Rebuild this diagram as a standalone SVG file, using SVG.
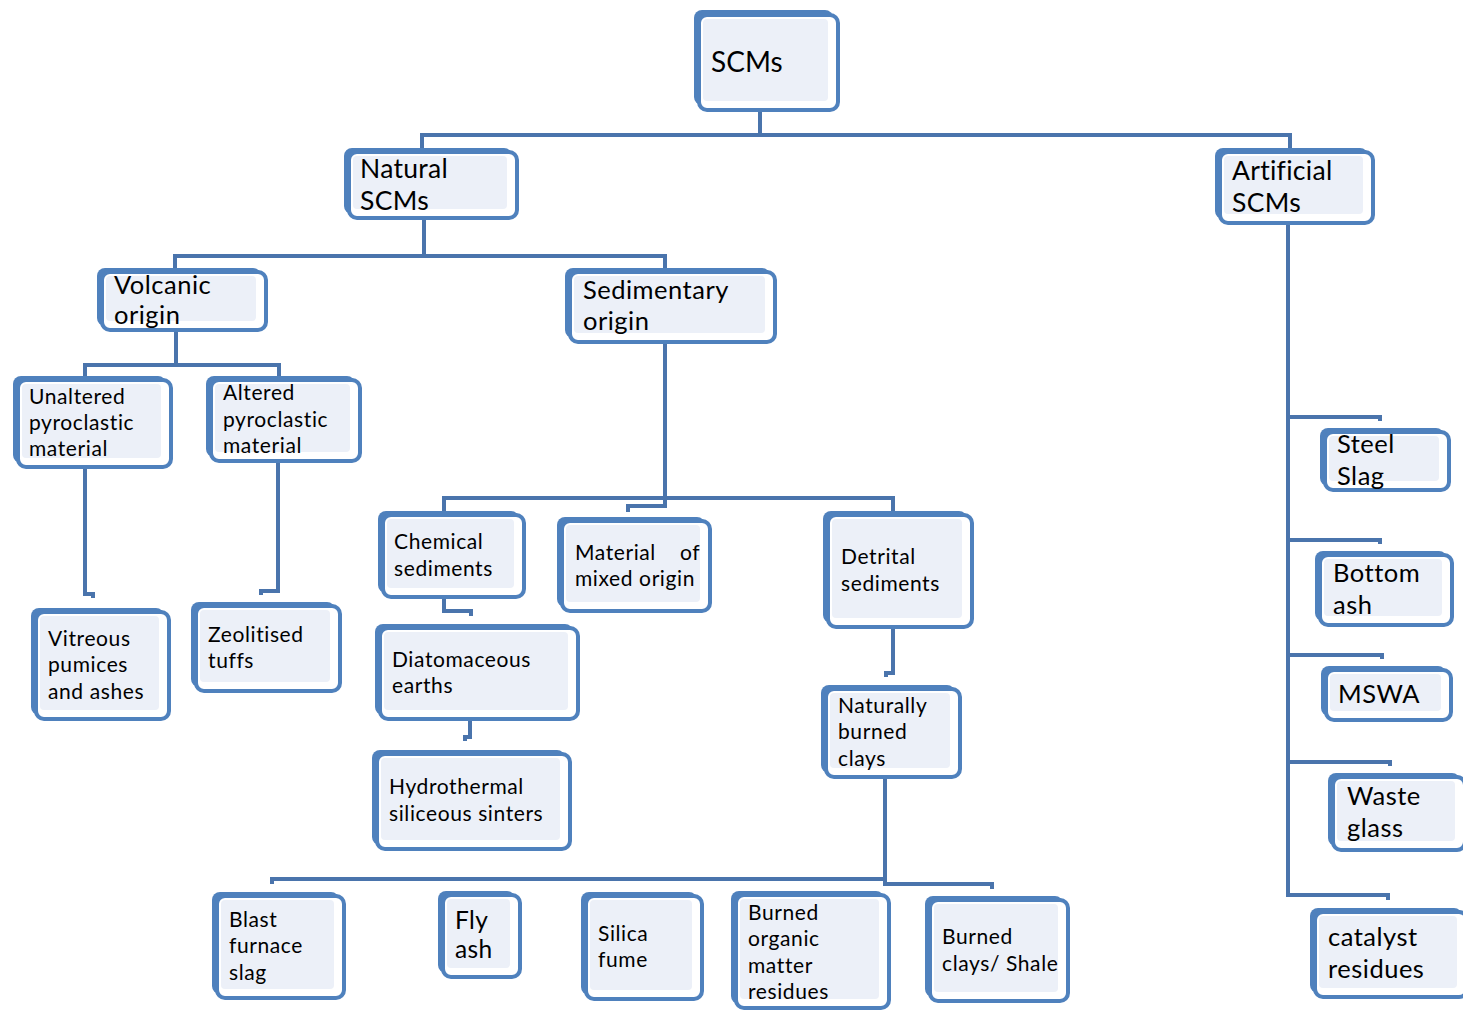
<svg xmlns="http://www.w3.org/2000/svg" width="1463" height="1010" viewBox="0 0 1463 1010">
<style>
.sh{fill:#4F81BD}
.fr{fill:#FFFFFF;stroke:#4F81BD;stroke-width:4}
.in{fill:#ECF0F8}
.t{font-family:Lato,"Open Sans",sans-serif;fill:#000}
.s20{font-size:21px;letter-spacing:0.6px}
.s24{font-size:25.5px;letter-spacing:0.5px}
.s26{font-size:26.5px;letter-spacing:0.3px}
#conn path{fill:none;stroke:#4A74AC;stroke-width:4}
</style>
<rect width="1463" height="1010" fill="#FFFFFF"/>
<g id="conn">
<path d="M760,112 V135"/>
<path d="M422,148 V135 H1290 V150"/>
<path d="M424,218 V256"/>
<path d="M175,268 V256 H665 V270"/>
<path d="M176,330 V365"/>
<path d="M85,376 V365 H279 V376"/>
<path d="M85,467 V594 H93 V598"/>
<path d="M278,461 V591 H261 V595"/>
<path d="M665,342 V506 H628 V512"/>
<path d="M444,512 V498 H893 V512"/>
<path d="M444,597 V611 H471 V616"/>
<path d="M470,719 V737 H465 V741"/>
<path d="M893,627 V673 H886 V677"/>
<path d="M885,777 V882"/>
<path d="M272,884 V879 H885 V884 H992 V889"/>
<path d="M1288,224 V895 H1388 V900"/>
<path d="M1288,417 H1380 V421"/>
<path d="M1288,540 H1380 V544"/>
<path d="M1288,655 H1382 V659"/>
<path d="M1288,762 H1390 V766"/>
</g>
<g id="n-scms"><rect class="sh" x="694" y="10" width="139" height="95" rx="8"/><rect class="fr" x="699" y="15" width="139" height="95" rx="8"/><rect class="in" x="703" y="19" width="125" height="82" rx="4"/><text class="t" x="711" y="72" font-size="28">SCMs</text></g>
<g id="n-natural"><rect class="sh" x="344" y="148" width="168" height="66" rx="8"/><rect class="fr" x="349" y="152" width="168" height="66" rx="8"/><rect class="in" x="353" y="156" width="154" height="53" rx="4"/><text class="t s26"><tspan x="360" y="178">Natural</tspan><tspan x="360" y="210">SCMs</tspan></text></g>
<g id="n-artificial"><rect class="sh" x="1215" y="148" width="153" height="71" rx="8"/><rect class="fr" x="1220" y="152" width="153" height="71" rx="8"/><rect class="in" x="1224" y="156" width="139" height="58" rx="4"/><text class="t s26"><tspan x="1232" y="180">Artificial</tspan><tspan x="1232" y="212">SCMs</tspan></text></g>
<g id="n-volcanic"><rect class="sh" x="97" y="268" width="164" height="58" rx="8"/><rect class="fr" x="102" y="272" width="164" height="58" rx="8"/><rect class="in" x="106" y="276" width="150" height="45" rx="4"/><text class="t s24"><tspan x="114" y="294">Volcanic</tspan><tspan x="114" y="324">origin</tspan></text></g>
<g id="n-sedimentary"><rect class="sh" x="565" y="268" width="205" height="70" rx="8"/><rect class="fr" x="570" y="272" width="205" height="70" rx="8"/><rect class="in" x="574" y="276" width="191" height="57" rx="4"/><text class="t s24"><tspan x="583" y="299">Sedimentary</tspan><tspan x="583" y="330">origin</tspan></text></g>
<g id="n-unaltered"><rect class="sh" x="13" y="376" width="153" height="87" rx="8"/><rect class="fr" x="18" y="380" width="153" height="87" rx="8"/><rect class="in" x="22" y="384" width="139" height="74" rx="4"/><text class="t s20"><tspan x="29" y="404">Unaltered</tspan><tspan x="29" y="430">pyroclastic</tspan><tspan x="29" y="456">material</tspan></text></g>
<g id="n-altered"><rect class="sh" x="206" y="376" width="149" height="81" rx="8"/><rect class="fr" x="211" y="380" width="149" height="81" rx="8"/><rect class="in" x="215" y="384" width="135" height="68" rx="4"/><text class="t s20"><tspan x="223" y="400">Altered</tspan><tspan x="223" y="427">pyroclastic</tspan><tspan x="223" y="453">material</tspan></text></g>
<g id="n-vitreous"><rect class="sh" x="31" y="608" width="133" height="107" rx="8"/><rect class="fr" x="36" y="612" width="133" height="107" rx="8"/><rect class="in" x="40" y="616" width="119" height="94" rx="4"/><text class="t s20"><tspan x="48" y="646">Vitreous</tspan><tspan x="48" y="672">pumices</tspan><tspan x="48" y="699">and ashes</tspan></text></g>
<g id="n-zeolitised"><rect class="sh" x="191" y="602" width="144" height="85" rx="8"/><rect class="fr" x="196" y="606" width="144" height="85" rx="8"/><rect class="in" x="200" y="610" width="130" height="72" rx="4"/><text class="t s20"><tspan x="208" y="642">Zeolitised</tspan><tspan x="208" y="668">tuffs</tspan></text></g>
<g id="n-chemical"><rect class="sh" x="378" y="511" width="141" height="82" rx="8"/><rect class="fr" x="383" y="515" width="141" height="82" rx="8"/><rect class="in" x="387" y="519" width="127" height="69" rx="4"/><text class="t s20"><tspan x="394" y="549">Chemical</tspan><tspan x="394" y="576">sediments</tspan></text></g>
<g id="n-mixed"><rect class="sh" x="557" y="517" width="148" height="90" rx="8"/><rect class="fr" x="562" y="521" width="148" height="90" rx="8"/><rect class="in" x="566" y="525" width="134" height="77" rx="4"/><text class="t s20"><tspan x="575" y="560">Material</tspan><tspan x="680" y="560">of</tspan><tspan x="575" y="586">mixed origin</tspan></text></g>
<g id="n-detrital"><rect class="sh" x="823" y="511" width="144" height="112" rx="8"/><rect class="fr" x="828" y="515" width="144" height="112" rx="8"/><rect class="in" x="832" y="519" width="130" height="99" rx="4"/><text class="t s20"><tspan x="841" y="564">Detrital</tspan><tspan x="841" y="591">sediments</tspan></text></g>
<g id="n-diatomaceous"><rect class="sh" x="375" y="624" width="198" height="91" rx="8"/><rect class="fr" x="380" y="628" width="198" height="91" rx="8"/><rect class="in" x="384" y="632" width="184" height="78" rx="4"/><text class="t s20"><tspan x="392" y="667">Diatomaceous</tspan><tspan x="392" y="693">earths</tspan></text></g>
<g id="n-hydrothermal"><rect class="sh" x="372" y="750" width="193" height="95" rx="8"/><rect class="fr" x="377" y="754" width="193" height="95" rx="8"/><rect class="in" x="381" y="758" width="179" height="82" rx="4"/><text class="t s20"><tspan x="389" y="794">Hydrothermal</tspan><tspan x="389" y="821">siliceous sinters</tspan></text></g>
<g id="n-naturally"><rect class="sh" x="821" y="685" width="134" height="88" rx="8"/><rect class="fr" x="826" y="689" width="134" height="88" rx="8"/><rect class="in" x="830" y="693" width="120" height="75" rx="4"/><text class="t s20"><tspan x="838" y="713">Naturally</tspan><tspan x="838" y="739">burned</tspan><tspan x="838" y="766">clays</tspan></text></g>
<g id="n-blast"><rect class="sh" x="212" y="892" width="127" height="102" rx="8"/><rect class="fr" x="217" y="896" width="127" height="102" rx="8"/><rect class="in" x="221" y="900" width="113" height="89" rx="4"/><text class="t s20"><tspan x="229" y="927">Blast</tspan><tspan x="229" y="953">furnace</tspan><tspan x="229" y="980">slag</tspan></text></g>
<g id="n-flyash"><rect class="sh" x="438" y="891" width="77" height="82" rx="8"/><rect class="fr" x="443" y="895" width="77" height="82" rx="8"/><rect class="in" x="447" y="899" width="63" height="69" rx="4"/><text class="t" font-size="24.5" letter-spacing="0.4"><tspan x="455" y="929">Fly</tspan><tspan x="455" y="958">ash</tspan></text></g>
<g id="n-silica"><rect class="sh" x="581" y="892" width="116" height="103" rx="8"/><rect class="fr" x="586" y="896" width="116" height="103" rx="8"/><rect class="in" x="590" y="900" width="102" height="90" rx="4"/><text class="t s20"><tspan x="598" y="941">Silica</tspan><tspan x="598" y="967">fume</tspan></text></g>
<g id="n-organic"><rect class="sh" x="731" y="891" width="153" height="113" rx="8"/><rect class="fr" x="736" y="895" width="153" height="113" rx="8"/><rect class="in" x="740" y="899" width="139" height="100" rx="4"/><text class="t s20"><tspan x="748" y="920">Burned</tspan><tspan x="748" y="946">organic</tspan><tspan x="748" y="973">matter</tspan><tspan x="748" y="999">residues</tspan></text></g>
<g id="n-clays"><rect class="sh" x="925" y="896" width="138" height="101" rx="8"/><rect class="fr" x="930" y="900" width="138" height="101" rx="8"/><rect class="in" x="934" y="904" width="124" height="88" rx="4"/><text class="t s20"><tspan x="942" y="944">Burned</tspan><tspan x="942" y="971">clays/ Shale</tspan></text></g>
<g id="n-steel"><rect class="sh" x="1320" y="428" width="124" height="58" rx="8"/><rect class="fr" x="1325" y="432" width="124" height="58" rx="8"/><rect class="in" x="1329" y="436" width="110" height="45" rx="4"/><text class="t s24"><tspan x="1337" y="453">Steel</tspan><tspan x="1337" y="485">Slag</tspan></text></g>
<g id="n-bottom"><rect class="sh" x="1315" y="551" width="132" height="70" rx="8"/><rect class="fr" x="1320" y="555" width="132" height="70" rx="8"/><rect class="in" x="1324" y="559" width="118" height="57" rx="4"/><text class="t s24"><tspan x="1333" y="582">Bottom</tspan><tspan x="1333" y="614">ash</tspan></text></g>
<g id="n-mswa"><rect class="sh" x="1321" y="666" width="125" height="50" rx="8"/><rect class="fr" x="1326" y="670" width="125" height="50" rx="8"/><rect class="in" x="1330" y="674" width="111" height="37" rx="4"/><text class="t s24" x="1338" y="703">MSWA</text></g>
<g id="n-waste"><rect class="sh" x="1328" y="773" width="132" height="73" rx="8"/><rect class="fr" x="1333" y="777" width="132" height="73" rx="8"/><rect class="in" x="1337" y="781" width="118" height="60" rx="4"/><text class="t s24"><tspan x="1347" y="805">Waste</tspan><tspan x="1347" y="837">glass</tspan></text></g>
<g id="n-catalyst"><rect class="sh" x="1310" y="908" width="152" height="85" rx="8"/><rect class="fr" x="1315" y="912" width="152" height="85" rx="8"/><rect class="in" x="1319" y="916" width="138" height="72" rx="4"/><text class="t s24"><tspan x="1328" y="946">catalyst</tspan><tspan x="1328" y="978">residues</tspan></text></g>
</svg>
